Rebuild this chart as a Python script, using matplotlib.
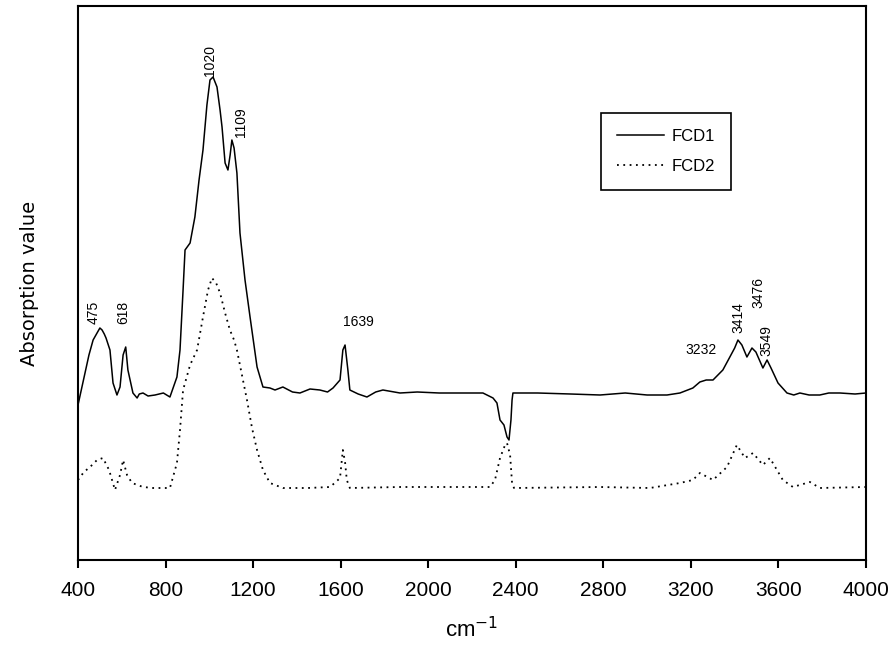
import matplotlib
matplotlib.use("Agg")
import matplotlib.pyplot as plt
import numpy as np

# FTIR spectra (wavenumber in cm-1, absorption in arbitrary units)
fcd1_wn = [400, 410, 432, 450, 469, 487, 500, 510, 520, 528, 546, 560, 578, 592, 606, 618,
           628, 651, 670, 680, 697, 720, 752, 790, 820, 852, 866, 880, 889, 912, 934, 953,
           971, 989, 1003, 1017, 1035, 1049, 1058, 1072, 1085, 1095, 1103, 1113, 1126, 1140,
           1163, 1186, 1218, 1245, 1277, 1300, 1336, 1380, 1414, 1460, 1505, 1540, 1565, 1597,
           1610, 1620, 1633, 1642, 1680, 1720, 1760, 1793, 1871, 1950, 2050, 2150, 2250, 2296,
           2314, 2328, 2346, 2360, 2369, 2378, 2383, 2387, 2500, 2650, 2785, 2900, 3000, 3091,
           3150, 3209, 3241, 3270, 3301, 3346, 3378, 3400, 3415, 3433, 3456, 3479, 3497, 3529,
           3548, 3566, 3598, 3639, 3670, 3698, 3740, 3789, 3830, 3881, 3950, 4000]
fcd1_abs = [155, 165, 187, 205, 220, 227, 232, 230, 226, 222, 210, 177, 165, 173, 205, 213,
            190, 167, 162, 166, 167, 164, 165, 167, 163, 183, 210, 270, 310, 317, 343, 380,
            410, 455, 480, 483, 473, 450, 433, 397, 390, 405, 420, 412, 387, 327,
            280, 243, 193, 173, 172, 170, 173, 168, 167, 171, 170, 168, 172, 180,
            210, 215, 190, 170, 166, 163, 168, 170, 167, 168, 167, 167, 167, 162,
            157, 140, 135, 123, 120, 140, 160, 167, 167, 166, 165, 167, 165, 165,
            167, 172, 178, 180, 180, 190, 203, 212, 220, 215, 203, 212, 208, 192,
            200, 192, 177, 167, 165, 167, 165, 165, 167, 167, 166, 167]

fcd2_wn = [400, 427, 455, 487, 514, 542, 569, 592, 606, 624, 647, 697, 743, 820, 852, 866,
           880, 912, 944, 971, 994, 1012, 1031, 1049, 1072, 1094, 1113, 1126, 1149, 1172,
           1195, 1218, 1245, 1277, 1336, 1450, 1551, 1578, 1597, 1610, 1620, 1628, 1642,
           1871, 2282, 2305, 2328, 2351, 2360, 2374, 2383, 2392, 2785, 3013, 3150, 3209,
           3241, 3301, 3365, 3410, 3447, 3484, 3529, 3561, 3620, 3666, 3744, 3789, 4000]
fcd2_abs = [80, 88, 93, 100, 102, 90, 70, 85, 100, 85, 77, 73, 72, 72, 97, 130,
            170, 195, 210, 243, 270, 282, 277, 267, 247, 230, 220, 210, 185, 160,
            132, 110, 90, 77, 72, 72, 73, 78, 82, 110, 98, 80, 72,
            73, 73, 80, 102, 115, 117, 105, 77, 72, 73, 72, 77, 80,
            87, 80, 93, 115, 102, 107, 95, 102, 80, 73, 78, 72, 73]

# peak labels
peak_labels = ["475", "618", "1020", "1109", "1639", "3232", "3414", "3476", "3549"]
peak_x = [470, 605, 1005, 1145, 1680, 3245, 3415, 3510, 3545]
peak_y = [248, 248, 500, 438, 238, 210, 242, 268, 219]
peak_rot = [90, 90, 90, 90, 0, 0, 90, 90, 90]

fig = plt.figure(figsize=(8.93, 6.54), dpi=100)
ax = fig.add_axes([78 / 893, 1 - 560 / 654, 788 / 893, 554 / 654])

ax.plot(fcd1_wn, fcd1_abs, color="black", lw=1.1, label="FCD1")
ax.plot(fcd2_wn, fcd2_abs, color="black", lw=1.3, linestyle=(0, (1, 2.5)), label="FCD2")

for t, x, y, r in zip(peak_labels, peak_x, peak_y, peak_rot):
    ax.text(x, y, t, rotation=r, ha="center", va="center", fontsize=10,
            family="Liberation Sans")

ax.set_xlim(400, 4000)
ax.set_ylim(0, 554)
ax.set_xticks([400, 800, 1200, 1600, 2000, 2400, 2800, 3200, 3600, 4000])
ax.set_yticks([])
for s in ax.spines.values():
    s.set_linewidth(1.5)
ax.tick_params(axis="x", direction="out", length=6, width=1.5, pad=9,
               labelsize=15)
for lab in ax.get_xticklabels():
    lab.set_family("Liberation Sans")

ax.set_xlabel("cm$^{-1}$", fontsize=16, family="Liberation Sans", labelpad=12)
ax.set_ylabel("Absorption value", fontsize=14, family="DejaVu Sans", labelpad=28)

leg = ax.legend(loc="upper left", bbox_to_anchor=((601 - 78) / 788, 1 - (113 - 6) / 554),
                frameon=True, fancybox=False, edgecolor="black", framealpha=1,
                handlelength=2.8, handletextpad=0.5, borderpad=0.95, labelspacing=0.9,
                borderaxespad=0, prop={"family": "Liberation Sans", "size": 12})
leg.get_frame().set_linewidth(1.2)

fig.savefig("out.png", dpi=100, facecolor="white")
